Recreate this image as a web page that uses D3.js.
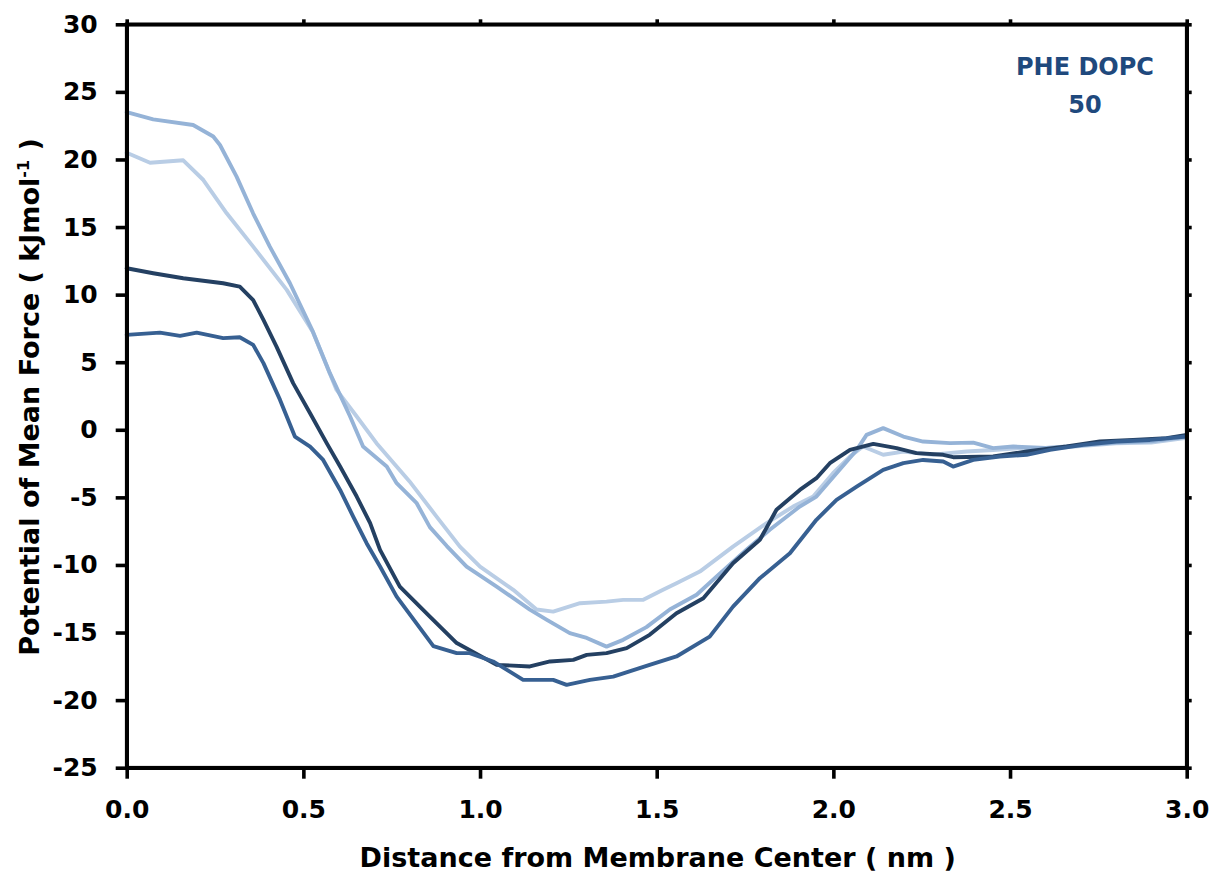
<!DOCTYPE html>
<html><head><meta charset="utf-8">
<script src="https://cdn.jsdelivr.net/npm/d3@7"></script>
<style>body{margin:0;background:#fff}svg{display:block}</style>
</head><body>
<svg id="c" width="1212" height="876"></svg>
<script>
// Series data (distance nm, PMF kJ/mol)
const xA = [0,0.066,0.16,0.217,0.283,0.358,0.453,0.527,0.594,0.651,0.707,0.80,0.877,0.943,1.0,1.094,1.16,1.207,1.283,1.358,1.405,1.462,1.518,1.556,1.622,1.716,1.811,1.886,1.943,1.999,2.047,2.084,2.141,2.198,2.282,2.377,2.452,2.528,2.6,2.7,2.8,2.9,3.0];
const yA = [20.5,19.76,19.94,18.48,16.02,13.55,10.35,7.24,2.95,0.98,-0.99,-3.8,-6.42,-8.64,-10.12,-11.84,-13.3,-13.45,-12.83,-12.71,-12.58,-12.58,-11.84,-11.35,-10.49,-8.64,-6.91,-5.68,-4.94,-3.21,-1.98,-1.24,-1.85,-1.61,-1.85,-1.61,-1.49,-1.36,-1.4,-1.2,-1.0,-0.95,-0.6];
const xB = [0,0.075,0.188,0.245,0.264,0.311,0.358,0.405,0.462,0.527,0.575,0.632,0.669,0.736,0.764,0.82,0.858,0.906,0.962,1.047,1.141,1.188,1.254,1.302,1.358,1.405,1.471,1.537,1.613,1.669,1.754,1.82,1.905,1.952,2.009,2.066,2.094,2.141,2.198,2.254,2.33,2.396,2.452,2.509,2.6,2.7,2.8,2.9,3.0];
const yB = [23.5,22.97,22.55,21.7,21.07,18.73,16.0,13.55,10.84,7.26,4.19,1.0,-1.24,-2.72,-3.95,-5.4,-7.2,-8.6,-10.12,-11.6,-13.3,-14.04,-15.04,-15.4,-16.04,-15.54,-14.6,-13.3,-12.2,-10.86,-8.88,-7.4,-5.68,-4.94,-3.21,-1.49,-0.38,0.12,-0.5,-0.87,-0.99,-0.95,-1.36,-1.24,-1.35,-1.15,-0.95,-0.85,-0.5];
const xC = [0,0.075,0.16,0.273,0.32,0.358,0.387,0.424,0.471,0.519,0.566,0.604,0.651,0.689,0.717,0.773,0.858,0.934,1.047,1.141,1.198,1.264,1.302,1.358,1.415,1.48,1.556,1.632,1.716,1.792,1.839,1.905,1.952,1.99,2.047,2.113,2.179,2.235,2.311,2.339,2.452,2.547,2.66,2.754,2.848,2.943,3.0];
const yC = [11.95,11.58,11.21,10.84,10.59,9.6,8.13,6.15,3.45,1.23,-0.99,-2.72,-4.94,-6.91,-8.88,-11.6,-13.82,-15.78,-17.39,-17.51,-17.14,-17.02,-16.65,-16.52,-16.15,-15.17,-13.57,-12.46,-9.87,-8.14,-5.92,-4.45,-3.58,-2.47,-1.49,-1.04,-1.36,-1.73,-1.85,-2.03,-1.98,-1.61,-1.24,-0.87,-0.75,-0.62,-0.38];
const xD = [0,0.094,0.151,0.198,0.273,0.32,0.358,0.387,0.434,0.476,0.519,0.556,0.604,0.641,0.679,0.717,0.764,0.868,0.934,0.971,1.037,1.122,1.207,1.245,1.311,1.377,1.48,1.556,1.65,1.716,1.792,1.877,1.952,2.009,2.066,2.141,2.198,2.254,2.311,2.339,2.396,2.471,2.547,2.613,2.707,2.801,2.896,3.0];
const yD = [7.02,7.19,6.95,7.19,6.78,6.85,6.28,4.93,2.21,-0.5,-1.24,-2.23,-4.45,-6.42,-8.39,-10.12,-12.34,-16.0,-16.52,-16.52,-17.14,-18.5,-18.5,-18.87,-18.5,-18.26,-17.39,-16.77,-15.3,-13.08,-10.98,-9.13,-6.66,-5.18,-4.2,-2.97,-2.47,-2.23,-2.35,-2.72,-2.23,-1.98,-1.85,-1.49,-1.12,-0.87,-0.75,-0.5];

const seriesColors = ["#b9cde5", "#95b3d7", "#244062", "#376092"];
const xTicks = [0,0.5,1.0,1.5,2.0,2.5,3.0];
const xTickLabels = ["0.0","0.5","1.0","1.5","2.0","2.5","3.0"];
const yTicks = [30,25,20,15,10,5,0,-5,-10,-15,-20,-25];
const yTickLabels = ["30","25","20","15","10","5","0","-5","-10","-15","-20","-25"];
const xTitle = "Distance from Membrane Center ( nm )";
const yTitle = "Potential of Mean Force ( kJmol";
const noteLines = ["PHE DOPC", "50"];

(function(){
const svg = d3.select("#c");
const L = 126.7, R = 1186.7, T = 24.3, B = 767.7;
const x = d3.scaleLinear().domain([0,3]).range([L,R]);
const y = d3.scaleLinear().domain([-25,30]).range([B,T]);
const font = "'DejaVu Sans', sans-serif";

const series = [[xA,yA],[xB,yB],[xC,yC],[xD,yD]];
const line = d3.line().x(d=>x(d[0])).y(d=>y(d[1]));
const g = svg.append("g");
series.forEach((s,i)=>{
  const pts = s[0].map((v,j)=>[v,s[1][j]]);
  g.append("path").datum(pts).attr("d",line).attr("fill","none")
   .attr("stroke",seriesColors[i]).attr("stroke-width",3.9)
   .attr("stroke-linejoin","round").attr("stroke-linecap","round");
});

const axW = 3.6;
const axBottom = svg.append("g").attr("transform",`translate(0,${B})`)
  .call(d3.axisBottom(x).tickValues(xTicks).tickFormat((d,i)=>xTickLabels[i]).tickSizeInner(11).tickSizeOuter(0).tickPadding(22));
const axLeft = svg.append("g").attr("transform",`translate(${L},0)`)
  .call(d3.axisLeft(y).tickValues(yTicks).tickFormat((d,i)=>yTickLabels[i]).tickSizeInner(11).tickSizeOuter(0).tickPadding(18));
const axTop = svg.append("g").attr("transform",`translate(0,${T})`)
  .call(d3.axisTop(x).tickValues(xTicks).tickFormat("").tickSizeInner(5).tickSizeOuter(0));
const axRight = svg.append("g").attr("transform",`translate(${R},0)`)
  .call(d3.axisRight(y).tickValues(yTicks).tickFormat("").tickSizeInner(5).tickSizeOuter(0));
[axBottom,axLeft,axTop,axRight].forEach(a=>{
  a.select(".domain").attr("stroke","#000").attr("stroke-width",axW);
  a.selectAll(".tick line").attr("stroke","#000").attr("stroke-width",axW);
  a.selectAll("text").attr("fill","#000").style("font-family",font).style("font-weight","bold").style("font-size","25px");
});
svg.append("rect").attr("x",L).attr("y",T).attr("width",R-L).attr("height",B-T)
  .attr("fill","none").attr("stroke","#000").attr("stroke-width",axW);

svg.append("text").attr("x",(L+R)/2 + 1).attr("y",867).attr("text-anchor","middle")
  .style("font-family",font).style("font-weight","bold").style("font-size","27px").attr("fill","#000")
  .text(xTitle);
const yt = svg.append("text").attr("transform",`translate(39,${(T+B)/2 + 1}) rotate(-90)`).attr("text-anchor","middle")
  .style("font-family",font).style("font-weight","bold").style("font-size","27px").attr("fill","#000");
yt.append("tspan").text(yTitle);
yt.append("tspan").attr("dy",-10).style("font-size","16px").text("-1");
yt.append("tspan").attr("dy",10).text(" )");

const note = svg.append("text").attr("text-anchor","middle")
  .style("font-family",font).style("font-weight","bold").style("font-size","24px").attr("fill","#1f497d");
noteLines.forEach((t,i)=>note.append("tspan").attr("x",1085).attr("y",75+i*38).text(t));
})();
</script>
</body></html>
